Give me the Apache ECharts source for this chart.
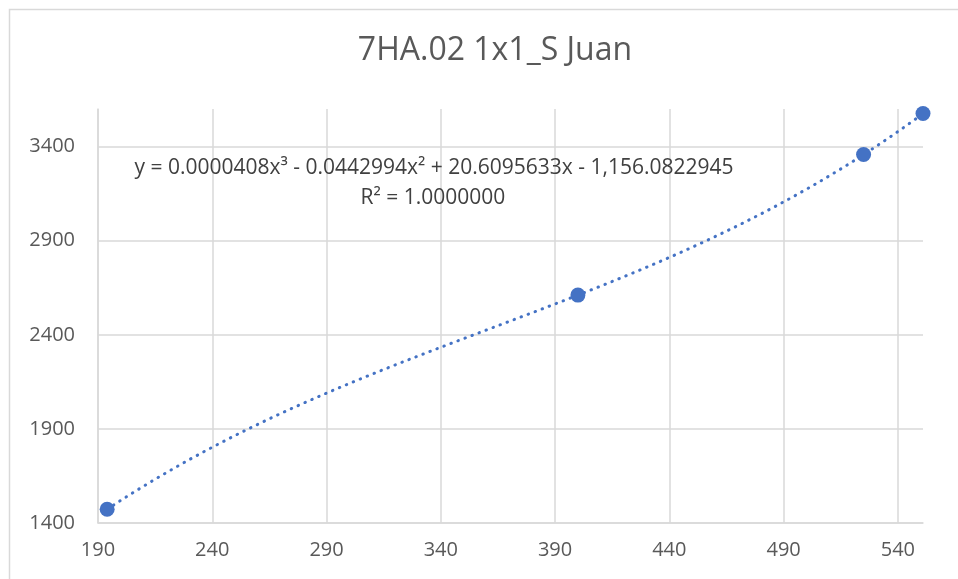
<!DOCTYPE html>
<html>
<head>
<meta charset="utf-8">
<script src="https://cdn.jsdelivr.net/npm/echarts@6/dist/echarts.min.js"></script>
<style>html,body{margin:0;padding:0;background:#fff}#c{width:958px;height:579px}</style>
</head>
<body>
<div id="c"></div>
<script>
const titleText = '7HA.02 1x1_S Juan';
const xValues = [194, 400, 525, 551];
const yValues = [1473, 2611, 3358, 3576];
// Trendline coefficients (cubic) as displayed in the chart: a3, a2, a1, a0
const trendCoef = [0.0000408, -0.0442994, 20.6095633, -1156.0822945];
const equationText = 'y = 0.0000408x³ - 0.0442994x² + 20.6095633x - 1,156.0822945';
const r2Text = 'R² = 1.0000000';
const xAxisMin = 190, xAxisMax = 551, xAxisStep = 50;
const yAxisMin = 1400, yAxisMax = 3600, yAxisStep = 500;

const points = xValues.map((x, i) => [x, yValues[i]]);
const trend = [];
const x0 = xValues[0], x1 = xValues[xValues.length - 1];
for (let k = 0; k <= 120; k++) {
  const x = x0 + (x1 - x0) * k / 120;
  const y = trendCoef[0] * x * x * x + trendCoef[1] * x * x + trendCoef[2] * x + trendCoef[3];
  trend.push([x, y]);
}

const font = '"Open Sans", Lato, "Noto Sans", sans-serif';
const chart = echarts.init(document.getElementById('c'));
chart.setOption({
  animation: false,
  backgroundColor: '#fff',
  title: {
    text: titleText, left: 490, textAlign: 'center', top: 30,
    textStyle: { fontFamily: font, fontSize: 32, fontWeight: 'normal', color: '#595959' }
  },
  grid: { left: 98, right: 35, top: 109, bottom: 56 },
  xAxis: {
    type: 'value', min: xAxisMin, max: xAxisMax, interval: xAxisStep,
    axisLine: { show: true, onZero: false, lineStyle: { color: '#d9d9d9', width: 1.5 } },
    axisTick: { show: false },
    axisLabel: { showMaxLabel: false, color: '#595959', fontFamily: font, fontSize: 20, margin: 17,
      formatter: v => String(v) },
    splitLine: { show: true, showMaxLine: false, lineStyle: { color: '#d9d9d9', width: 1.5 } }
  },
  yAxis: {
    type: 'value', min: yAxisMin, max: yAxisMax, interval: yAxisStep,
    axisLine: { show: true, onZero: false, lineStyle: { color: '#d9d9d9', width: 1.5 } },
    axisTick: { show: false },
    axisLabel: { showMaxLabel: false, color: '#595959', fontFamily: font, fontSize: 20, margin: 23,
      formatter: v => String(v) },
    splitLine: { show: true, showMaxLine: false, lineStyle: { color: '#d9d9d9', width: 1.5 } }
  },
  graphic: [
    { type: 'rect', silent: true, z: -1, shape: { x: 9.5, y: 9.5, width: 1000, height: 620 },
      style: { fill: 'none', stroke: '#d9d9d9', lineWidth: 1.5 } },
    { type: 'text', x: 434, y: 168, z: 10,
      style: { text: equationText, fill: '#404040', fontSize: 21, fontFamily: font,
        align: 'center', verticalAlign: 'middle' } },
    { type: 'text', x: 433, y: 198, z: 10,
      style: { text: r2Text, fill: '#404040', fontSize: 21, fontFamily: font,
        align: 'center', verticalAlign: 'middle' } }
  ],
  series: [
    {
      type: 'line', data: trend, showSymbol: false, symbol: 'none', z: 2,
      lineStyle: { color: '#4472C4', width: 3, type: [0.5, 7], cap: 'round' }
    },
    {
      type: 'scatter', data: points, symbolSize: 15, z: 3,
      itemStyle: { color: '#4472C4', opacity: 1 }
    }
  ]
});
</script>
</body>
</html>
